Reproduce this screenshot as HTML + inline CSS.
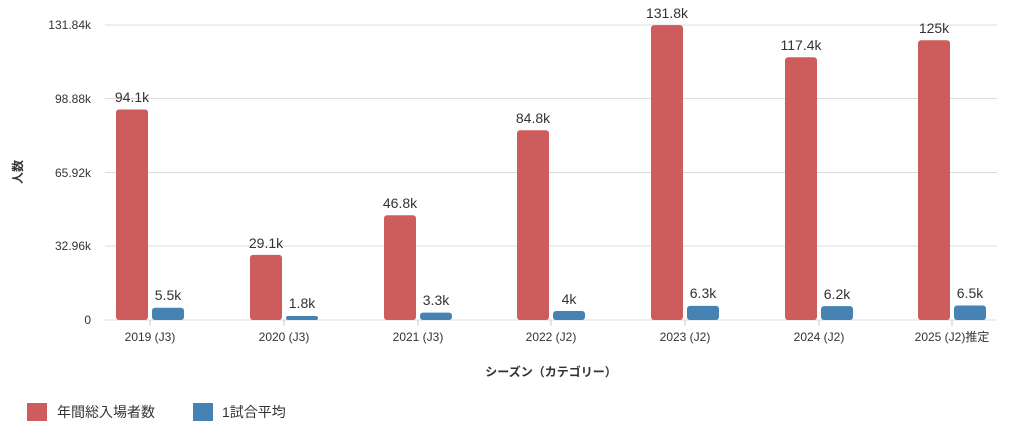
<!DOCTYPE html><html><head><meta charset="utf-8"><style>
body{margin:0;background:#fff;}
svg text{font-family:"Liberation Sans","Noto Sans CJK JP",sans-serif;}
</style></head><body>
<svg width="1024" height="435" xmlns="http://www.w3.org/2000/svg">
<g stroke="#dcdcdc" stroke-width="1">
<line x1="105" y1="25" x2="997" y2="25"/><line x1="105" y1="98.5" x2="997" y2="98.5"/>
<line x1="105" y1="172.5" x2="997" y2="172.5"/><line x1="105" y1="246" x2="997" y2="246"/>
<line x1="105" y1="320" x2="997" y2="320"/>
</g>
<g font-size="12" fill="#333" text-anchor="end">
<text x="91" y="29">131.84k</text><text x="91" y="103">98.88k</text><text x="91" y="177">65.92k</text><text x="91" y="250">32.96k</text><text x="91" y="324">0</text>
</g>
<text transform="translate(22,172) rotate(-90)" font-size="12" font-weight="bold" fill="#333" text-anchor="middle">人数</text>
<g fill="#cd5c5c">
<rect x="116" y="109.45" width="32" height="210.55" rx="3"/>
<rect x="250" y="254.89" width="32" height="65.11" rx="3"/>
<rect x="384" y="215.28" width="32" height="104.72" rx="3"/>
<rect x="517" y="130.25" width="32" height="189.75" rx="3"/>
<rect x="651" y="25.09" width="32" height="294.91" rx="3"/>
<rect x="785" y="57.31" width="32" height="262.69" rx="3"/>
<rect x="918" y="40.3" width="32" height="279.7" rx="3"/>
</g>
<g fill="#4682b4">
<rect x="152" y="307.69" width="32" height="12.31" rx="3"/>
<rect x="286" y="315.97" width="32" height="4.03" rx="2"/>
<rect x="420" y="312.62" width="32" height="7.38" rx="3"/>
<rect x="553" y="311.05" width="32" height="8.95" rx="3"/>
<rect x="687" y="305.9" width="32" height="14.1" rx="3"/>
<rect x="821" y="306.13" width="32" height="13.87" rx="3"/>
<rect x="954" y="305.46" width="32" height="14.54" rx="3"/>
</g>
<g font-size="14" fill="#333" text-anchor="middle">
<text x="132" y="102">94.1k</text><text x="266" y="248">29.1k</text><text x="400" y="208">46.8k</text><text x="533" y="123">84.8k</text><text x="667" y="18">131.8k</text><text x="801" y="50">117.4k</text><text x="934" y="33">125k</text>
<text x="168" y="300">5.5k</text><text x="302" y="308">1.8k</text><text x="436" y="305">3.3k</text><text x="569" y="304">4k</text><text x="703" y="298">6.3k</text><text x="837" y="299">6.2k</text><text x="970" y="298">6.5k</text>
</g>
<g stroke="#ccc">
<line x1="150" y1="320" x2="150" y2="326"/><line x1="284" y1="320" x2="284" y2="326"/><line x1="418" y1="320" x2="418" y2="326"/><line x1="551" y1="320" x2="551" y2="326"/><line x1="685" y1="320" x2="685" y2="326"/><line x1="819" y1="320" x2="819" y2="326"/><line x1="952" y1="320" x2="952" y2="326"/>
</g>
<g font-size="12" fill="#333" text-anchor="middle">
<text x="150" y="341">2019 (J3)</text><text x="284" y="341">2020 (J3)</text><text x="418" y="341">2021 (J3)</text><text x="551" y="341">2022 (J2)</text><text x="685" y="341">2023 (J2)</text><text x="819" y="341">2024 (J2)</text><text x="952" y="341">2025 (J2)推定</text>
</g>
<text x="551" y="376" font-size="12" font-weight="bold" fill="#333" text-anchor="middle">シーズン（カテゴリー）</text>
<rect x="27" y="403" width="20" height="18" fill="#cd5c5c"/>
<text x="57" y="417" font-size="14" fill="#333">年間総入場者数</text>
<rect x="193" y="403" width="20" height="18" fill="#4682b4"/>
<text x="222" y="417" font-size="14" fill="#333">1試合平均</text>
</svg></body></html>
